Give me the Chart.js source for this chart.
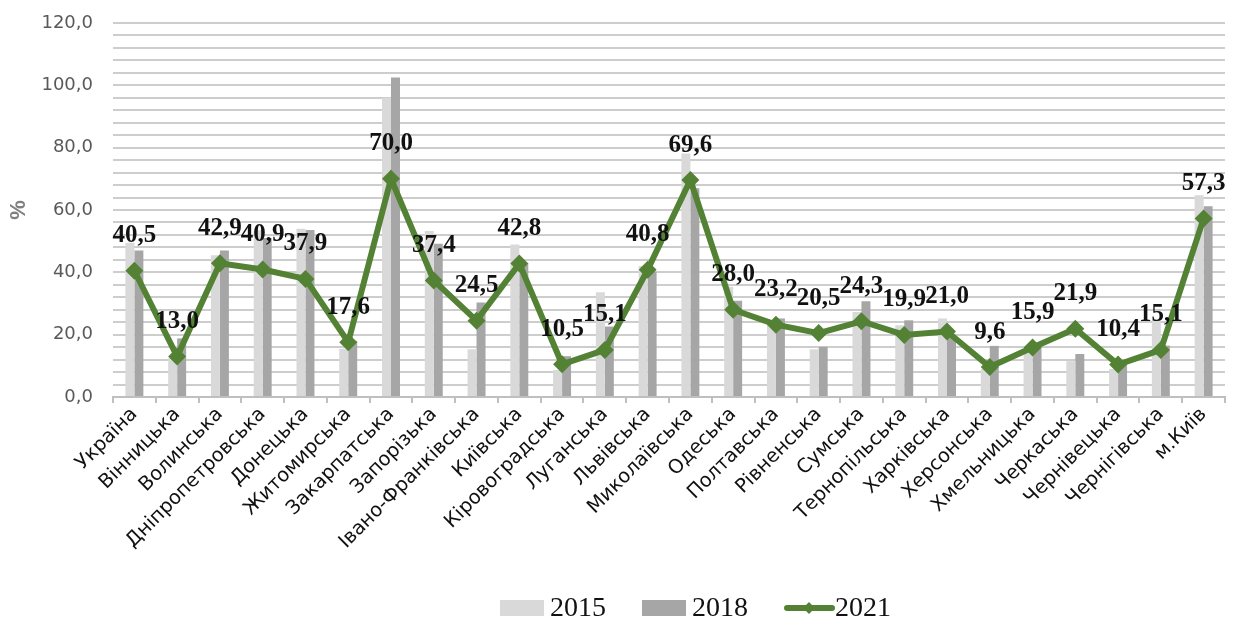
<!DOCTYPE html>
<html>
<head>
<meta charset="utf-8">
<script src="https://cdn.jsdelivr.net/npm/chart.js@4.4.1/dist/chart.umd.min.js"></script>
<style>
html,body{margin:0;padding:0;background:#fff;}
#wrap{width:1234px;height:620px;position:relative;}
</style>
</head>
<body>
<div id="wrap"><canvas id="c" width="1234" height="620"></canvas></div>
<script>
const categories = ['Україна','Вінницька','Волинська','Дніпропетровська','Донецька','Житомирська','Закарпатська','Запорізька','Івано-Франківська','Київська','Кіровоградська','Луганська','Львівська','Миколаївська','Одеська','Полтавська','Рівненська','Сумська','Тернопільська','Харківська','Херсонська','Хмельницька','Черкаська','Чернівецька','Чернігівська','м.Київ'];
const seriesNames = ['2015','2018','2021'];
const values2015 = [49.5,12.5,45.5,53.5,54.0,15.5,96.0,53.3,15.3,48.9,8.7,33.6,42.0,78.1,35.4,23.7,15.3,27.3,23.0,25.2,9.0,14.5,11.5,9.0,24.5,64.7];
const values2018 = [47.0,18.8,47.0,51.0,53.6,18.0,102.5,49.2,30.3,43.0,13.1,22.6,40.2,67.0,30.9,25.2,16.1,30.7,24.6,19.5,16.4,17.0,13.8,10.8,16.5,61.2];
const values2021 = [40.5,13.0,42.9,40.9,37.9,17.6,70.0,37.4,24.5,42.8,10.5,15.1,40.8,69.6,28.0,23.2,20.5,24.3,19.9,21.0,9.6,15.9,21.9,10.4,15.1,57.3];
const yMin = 0, yMax = 120, yLabelStep = 20, yGridStep = 4;

const C15 = '#d9d9d9', C18 = '#a6a6a6', CL = '#548235';
const fmt = v => v.toFixed(1).replace('.', ',');

const dataLabels = {
  id: 'dataLabels',
  afterDatasetsDraw(chart){
    const ctx = chart.ctx;
    const meta = chart.getDatasetMeta(2);
    ctx.save();
    ctx.font = 'bold 25px "Liberation Serif"';
    ctx.fillStyle = '#111';
    ctx.textAlign = 'center';
    ctx.textBaseline = 'middle';
    meta.data.forEach((pt, i) => {
      ctx.fillText(fmt(values2021[i]), pt.x, pt.y - 35);
    });
    ctx.restore();
  }
};

const customLegend = {
  id: 'customLegend',
  afterDraw(chart){
    const ctx = chart.ctx;
    ctx.save();
    ctx.font = '28px "Liberation Serif"';
    ctx.textBaseline = 'middle';
    const cy = 608;
    let x = 500;
    const colors = [C15, C18, CL];
    chart.data.datasets.forEach((d, i) => {
      if (i < 2) {
        ctx.fillStyle = colors[i];
        ctx.fillRect(x, cy - 8, 44, 16);
        x += 50;
      } else {
        ctx.strokeStyle = CL; ctx.lineWidth = 6; ctx.lineCap = 'round';
        ctx.beginPath(); ctx.moveTo(x + 3, cy); ctx.lineTo(x + 48, cy); ctx.stroke();
        ctx.fillStyle = CL;
        ctx.beginPath(); ctx.moveTo(x + 25, cy - 6); ctx.lineTo(x + 31, cy); ctx.lineTo(x + 25, cy + 6); ctx.lineTo(x + 19, cy); ctx.closePath(); ctx.fill();
        x += 51;
      }
      ctx.fillStyle = '#111';
      ctx.fillText(d.label, x, cy + 1);
      x += ctx.measureText(d.label).width + 36;
    });
    ctx.restore();
  }
};

new Chart(document.getElementById('c'), {
  type: 'bar',
  data: {
    labels: categories,
    datasets: [
      {label: seriesNames[0], data: values2015, backgroundColor: C15, categoryPercentage: 0.42, barPercentage: 1.0, order: 1},
      {label: seriesNames[1], data: values2018, backgroundColor: C18, categoryPercentage: 0.42, barPercentage: 1.0, order: 2},
      {label: seriesNames[2], type: 'line', data: values2021, borderColor: CL, backgroundColor: CL, borderWidth: 6,
       pointStyle: 'rectRot', pointRadius: 9, pointBackgroundColor: CL, pointBorderColor: CL, pointBorderWidth: 0, tension: 0, order: 0}
    ]
  },
  options: {
    responsive: false,
    animation: false,
    devicePixelRatio: 1,
    layout: {padding: {top: 0, right: 2, left: 0, bottom: 53}},
    plugins: {
      tooltip: {enabled: false},
      legend: {display: false}
    },
    scales: {
      x: {
        grid: {offset: true, drawOnChartArea: false, tickLength: 6, color: '#bfbfbf', lineWidth: 2},
        border: {color: '#bfbfbf', width: 2},
        ticks: {autoSkip: false, minRotation: 45, maxRotation: 45, color: '#111',
                font: {family: '"DejaVu Sans"', size: 19.5}, padding: 0},
        afterFit(scale){ scale.height = 170; }
      },
      y: {
        min: yMin, max: yMax,
        grid: {color: '#cdcdcd', lineWidth: 2, drawTicks: false},
        border: {display: false},
        ticks: {
          autoSkip: false,
          stepSize: yGridStep, color: '#595959', padding: 20,
          font: {family: '"DejaVu Sans"', size: 18},
          callback: v => (v % yLabelStep === 0 ? fmt(v) : '')
        },
        title: {display: true, text: '%', color: '#7f7f7f', font: {family: '"Liberation Sans"', size: 22, weight: 'bold'}, padding: {top: 6, bottom: 0}},
        afterFit(scale){ scale.width = 113; scale.paddingTop = 23; scale.paddingBottom = 0; }
      }
    }
  },
  plugins: [dataLabels, customLegend]
});
</script>
</body>
</html>
